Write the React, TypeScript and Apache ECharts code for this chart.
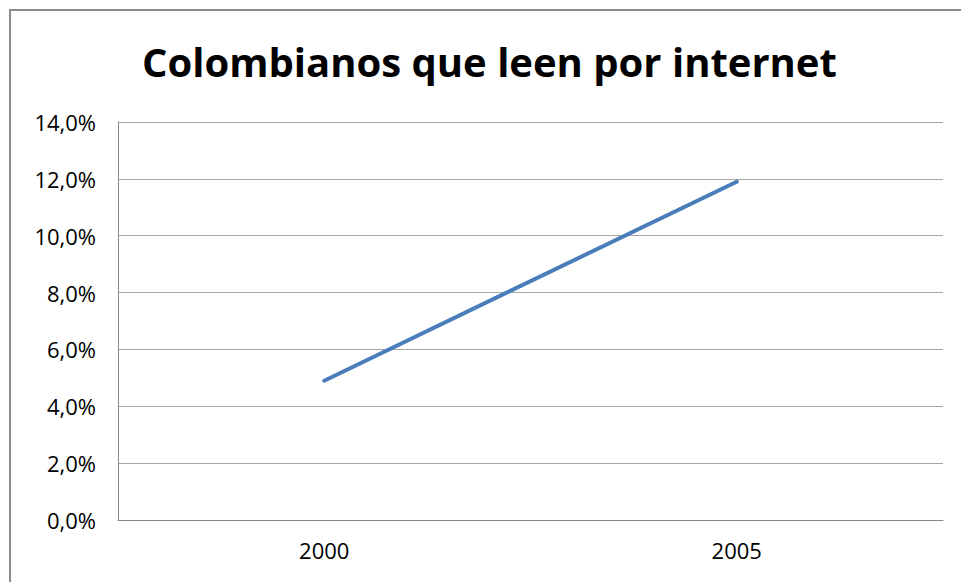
import React, { useEffect, useRef } from "react";
import * as echarts from "echarts";

const categories = ["2000", "2005"];
const values = [4.9, 11.9];
const title = "Colombianos que leen por internet";

export default function App() {
  const ref = useRef<HTMLDivElement>(null);
  useEffect(() => {
    const chart = echarts.init(ref.current!, null, { renderer: "svg" });
    chart.setOption({
      animation: false,
      backgroundColor: "#ffffff",
      title: {
        text: title,
        left: 137,
        top: 36,
        textStyle: {
          fontFamily: "Open Sans",
          fontWeight: "bold",
          fontSize: 40,
          color: "#000000",
        },
      },
      graphic: [
        {
          type: "rect",
          shape: { x: 10, y: 10, width: 960, height: 580 },
          style: { fill: "none", stroke: "#8c8c8c", lineWidth: 2 },
          silent: true,
        },
      ],
      grid: { left: 118, right: 18, top: 122, bottom: 62, containLabel: false },
      xAxis: {
        type: "category",
        data: categories,
        boundaryGap: true,
        axisLine: { show: true, lineStyle: { color: "#8a8a8a", width: 1 } },
        axisTick: { show: false },
        axisLabel: {
          margin: 19,
          fontFamily: "Open Sans",
          fontSize: 22,
          color: "#000000",
        },
        splitLine: { show: false },
      },
      yAxis: {
        type: "value",
        min: 0,
        max: 14,
        interval: 2,
        axisLine: { show: true, lineStyle: { color: "#8a8a8a", width: 1 } },
        axisTick: { show: false },
        axisLabel: {
          margin: 22,
          fontFamily: "Open Sans",
          fontSize: 22,
          color: "#000000",
          formatter: (v: number) => v.toFixed(1).replace(".", ",") + "%",
        },
        splitLine: { show: true, lineStyle: { color: "#a6a6a6", width: 1 } },
      },
      series: [
        {
          type: "line",
          data: values,
          symbol: "none",
          lineStyle: { color: "#4a7ebb", width: 4, cap: "round" },
        },
      ],
    });
    return () => chart.dispose();
  }, []);
  return (
    <div
      ref={ref}
      style={{ position: "fixed", left: 0, top: 0, width: 961, height: 582 }}
    />
  );
}
